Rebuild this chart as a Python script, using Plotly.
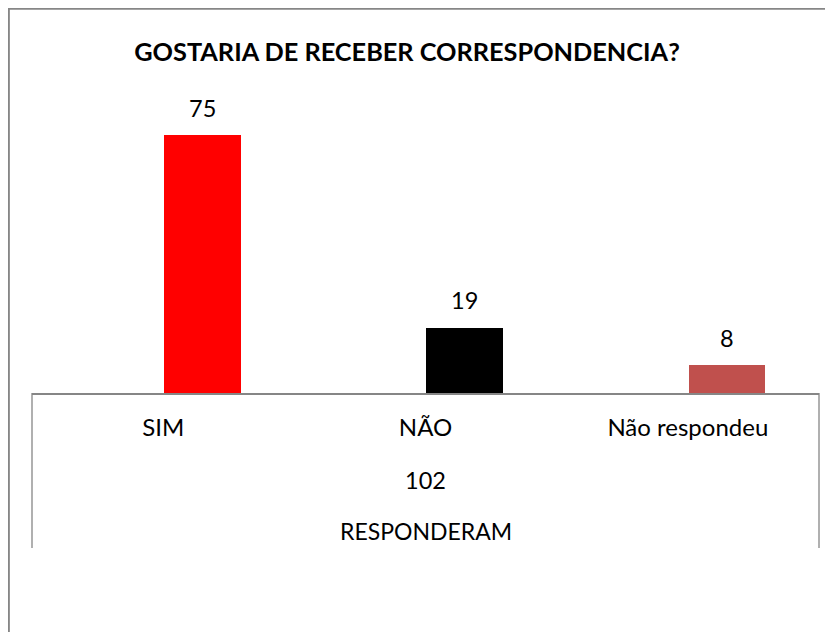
import plotly.graph_objects as go

categories = ["SIM", "NÃO", "Não respondeu"]
values = [75, 19, 8]
bar_colors = ["#FF0000", "#000000", "#C0504D"]
title_text = "GOSTARIA DE RECEBER CORRESPONDENCIA?"
total_text = "102"
group_text = "RESPONDERAM"

# page has an 8px body margin; work in window coordinates and convert
OFF = 8
W, H = 833 - OFF, 632 - OFF
L = 32 - OFF
R = 833 - 819 - 0
T = 118 - OFF
B = 632 - 393
ph = H - T - B
pw = W - L - R

def py(ywin):
    return (H - B - (ywin - OFF)) / ph

def px(xwin):
    return ((xwin - OFF) - L) / pw

gray = "#868686"
font = "Lato"

fig = go.Figure()
fig.add_trace(go.Bar(
    x=categories, y=values,
    marker=dict(color=bar_colors, line=dict(width=0)),
    width=0.293, offset=0.003,
    hoverinfo="skip",
))

annotations = []
for i, (c, v) in enumerate(zip(categories, values)):
    annotations.append(dict(
        x=i + 0.149, y=v, xref="x", yref="y",
        text=str(v), showarrow=False, yanchor="middle", yshift=27.5,
        font=dict(family=font, size=23.5, color="#000000"),
    ))
annotations.append(dict(x=0.5, y=py(480), xref="paper", yref="paper",
                        text=total_text, showarrow=False, yanchor="middle",
                        font=dict(family=font, size=23.5, color="#000000")))
annotations.append(dict(x=0.5, y=py(530.5), xref="paper", yref="paper",
                        text=group_text, showarrow=False, yanchor="middle",
                        font=dict(family=font, size=23, color="#000000")))

shapes = [
    dict(type="line", xref="paper", yref="paper", x0=0, x1=0, y0=0, y1=py(548),
         line=dict(color=gray, width=1.3)),
    dict(type="line", xref="paper", yref="paper", x0=1, x1=1, y0=0, y1=py(548),
         line=dict(color=gray, width=1.3)),
    dict(type="line", xref="paper", yref="paper", x0=px(8.6), x1=px(8.6), y0=py(7.4), y1=py(640),
         line=dict(color=gray, width=2.5)),
    dict(type="line", xref="paper", yref="paper", x0=px(7.4), x1=px(840), y0=py(8.6), y1=py(8.6),
         line=dict(color=gray, width=2.5)),
]

fig.update_layout(
    width=W, height=H,
    margin=dict(l=L, r=R, t=T, b=B, pad=0),
    paper_bgcolor="white", plot_bgcolor="white",
    showlegend=False,
    title=dict(text=title_text, x=(407 - OFF) / W, xanchor="center",
               y=1 - (52 - OFF) / H, yanchor="middle",
               xref="container", yref="container",
               font=dict(family=font, size=25.3, color="#000000", weight="bold")),
    xaxis=dict(type="category", range=[-0.5, 2.5], showline=True, linecolor=gray, linewidth=2,
               showgrid=False, zeroline=False, ticks="", ticklabelstandoff=12,
               tickfont=dict(family=font, size=24, color="#000000"), fixedrange=True),
    yaxis=dict(range=[0, ph / 3.44], visible=False, showgrid=False, zeroline=False, fixedrange=True),
    annotations=annotations,
    shapes=shapes,
    bargap=0,
)

fig.write_html("out.html")
